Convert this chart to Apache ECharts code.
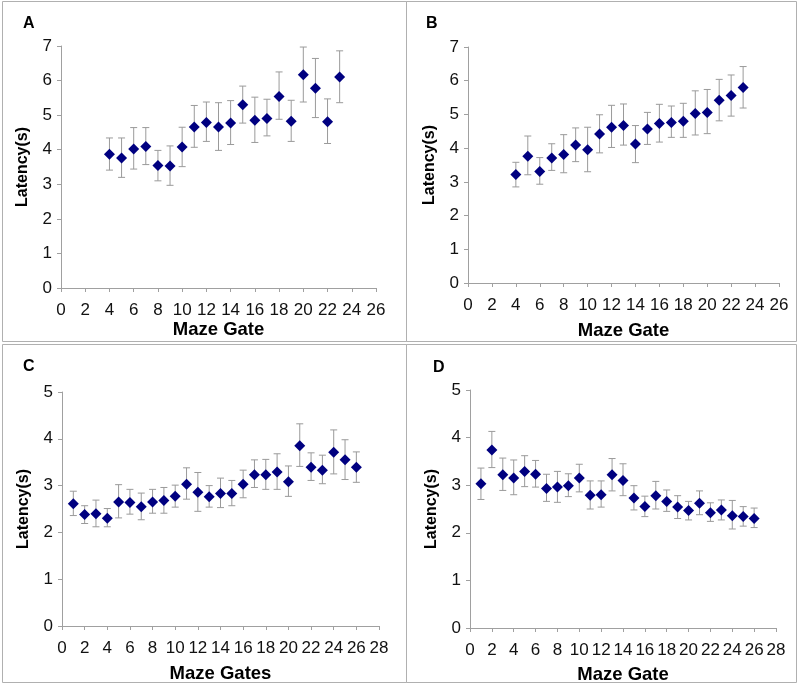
<!DOCTYPE html>
<html><head><meta charset="utf-8">
<script src="https://cdn.jsdelivr.net/npm/echarts@6/dist/echarts.min.js"></script>
<style>html,body{margin:0;padding:0;background:#fff}#c{width:800px;height:687px}</style>
</head><body><div id="c"></div>
<script>
// Panel A
var gatesA = [4,5,6,7,8,9,10,11,12,13,14,15,16,17,18,19,20,21,22,23];
var meanA  = [3.87,3.76,4.02,4.09,3.54,3.53,4.08,4.66,4.79,4.66,4.77,5.30,4.85,4.90,5.54,4.82,6.17,5.78,4.81,6.10];
var upA    = [4.34,4.34,4.64,4.64,3.98,4.11,4.65,5.28,5.38,5.36,5.42,5.84,5.52,5.46,6.25,5.43,6.97,6.64,5.47,6.86];
var loA    = [3.41,3.20,3.44,3.57,3.10,2.97,3.51,4.07,4.24,3.98,4.15,4.77,4.21,4.40,4.88,4.24,5.38,4.93,4.18,5.36];
// Panel B
var gatesB = [4,5,6,7,8,9,10,11,12,13,14,15,16,17,18,19,20,21,22,23];
var meanB  = [3.22,3.76,3.31,3.71,3.81,4.09,3.95,4.42,4.62,4.67,4.12,4.57,4.73,4.76,4.80,5.03,5.06,5.42,5.56,5.80];
var upB    = [3.58,4.36,3.72,4.13,4.40,4.60,4.62,4.99,5.27,5.31,4.67,5.06,5.30,5.25,5.33,5.70,5.74,6.04,6.17,6.42];
var loB    = [2.85,3.21,2.93,3.34,3.27,3.60,3.30,3.86,4.02,4.09,3.57,4.11,4.18,4.32,4.32,4.39,4.43,4.81,4.95,5.19];
// Panel C
var gatesC = [1,2,3,4,5,6,7,8,9,10,11,12,13,14,15,16,17,18,19,20,21,22,23,24,25,26];
var meanC  = [2.61,2.38,2.40,2.30,2.65,2.64,2.55,2.65,2.68,2.77,3.03,2.86,2.76,2.83,2.83,3.03,3.23,3.23,3.29,3.08,3.85,3.39,3.33,3.71,3.55,3.39];
var upC    = [2.88,2.57,2.69,2.51,3.02,2.92,2.84,2.92,2.96,3.01,3.38,3.28,3.00,3.16,3.11,3.33,3.55,3.56,3.68,3.42,4.32,3.70,3.65,4.19,3.98,3.72];
var loC    = [2.36,2.19,2.12,2.12,2.31,2.39,2.27,2.41,2.41,2.54,2.71,2.45,2.54,2.53,2.57,2.74,2.96,2.92,2.92,2.77,3.41,3.11,3.04,3.25,3.13,3.07];
// Panel D
var gatesD = [1,2,3,4,5,6,7,8,9,10,11,12,13,14,15,16,17,18,19,20,21,22,23,24,25,26];
var meanD  = [3.03,3.74,3.22,3.15,3.29,3.23,2.93,2.96,2.99,3.15,2.79,2.80,3.22,3.10,2.73,2.55,2.78,2.66,2.54,2.47,2.62,2.42,2.48,2.36,2.34,2.30];
var upD    = [3.36,4.13,3.57,3.53,3.62,3.52,3.23,3.29,3.24,3.44,3.09,3.09,3.56,3.45,2.99,2.77,3.08,2.90,2.78,2.66,2.88,2.63,2.69,2.68,2.55,2.52];
var loD    = [2.70,3.37,2.89,2.80,2.97,2.96,2.66,2.64,2.76,2.86,2.50,2.54,2.88,2.78,2.48,2.34,2.50,2.45,2.30,2.27,2.38,2.24,2.27,2.08,2.14,2.11];

var panelLetters = ['A','B','C','D'];
var xNames = ['Maze Gate','Maze Gate','Maze Gates','Maze Gate'];
var yName = 'Latency(s)';

var panels = [
  {g:gatesA,m:meanA,u:upA,l:loA,xmax:26,ymax:7,xGap:32, grid:{left:61,top:46,width:315,height:242}},
  {g:gatesB,m:meanB,u:upB,l:loB,xmax:26,ymax:7,xGap:38, grid:{left:468,top:47,width:311,height:236}},
  {g:gatesC,m:meanC,u:upC,l:loC,xmax:28,ymax:5,xGap:38, grid:{left:62,top:392,width:317,height:234}},
  {g:gatesD,m:meanD,u:upD,l:loD,xmax:28,ymax:5,xGap:37, grid:{left:470,top:390,width:306,height:238}}
];
var letterPos = [[23,16],[426,16],[23,359],[433,360]];

var FONT = 'Liberation Sans, Arial, sans-serif';
var axisCol = '#a0a0a0';
var grids=[], xAxes=[], yAxes=[], series=[];
panels.forEach(function(p,i){
  grids.push(p.grid);
  xAxes.push({type:'value',gridIndex:i,min:0,max:p.xmax,interval:2,
    axisLine:{show:true,onZero:false,lineStyle:{color:axisCol,width:1}},
    axisTick:{show:true,inside:false,length:4,lineStyle:{color:axisCol}},
    splitLine:{show:false},
    axisLabel:{color:'#111',fontSize:17,fontFamily:FONT,margin:14,hideOverlap:false},
    name:xNames[i],nameLocation:'middle',nameGap:p.xGap,
    nameTextStyle:{color:'#000',fontSize:18.5,fontWeight:'bold',fontFamily:FONT}});
  yAxes.push({type:'value',gridIndex:i,min:0,max:p.ymax,interval:1,
    axisLine:{show:true,lineStyle:{color:axisCol,width:1}},
    axisTick:{show:true,inside:false,length:4,lineStyle:{color:axisCol}},
    splitLine:{show:false},
    axisLabel:{color:'#111',fontSize:17,fontFamily:FONT,margin:9},
    name:yName,nameLocation:'middle',nameGap:30,
    nameTextStyle:{color:'#000',fontSize:16,fontWeight:'bold',fontFamily:FONT}});
  var errData = p.g.map(function(x,k){return [x,p.l[k],p.u[k]];});
  series.push({type:'custom',xAxisIndex:i,yAxisIndex:i,data:errData,z:2,
    renderItem:function(params,api){
      var x=api.value(0);
      var lo=api.coord([x,api.value(1)]);
      var hi=api.coord([x,api.value(2)]);
      var hw=3.5;
      var st={stroke:'#9a9a9a',lineWidth:1};
      return {type:'group',children:[
        {type:'line',shape:{x1:lo[0],y1:lo[1],x2:hi[0],y2:hi[1]},style:st},
        {type:'line',shape:{x1:lo[0]-hw,y1:lo[1],x2:lo[0]+hw,y2:lo[1]},style:st},
        {type:'line',shape:{x1:hi[0]-hw,y1:hi[1],x2:hi[0]+hw,y2:hi[1]},style:st}
      ]};
    }});
  series.push({type:'scatter',xAxisIndex:i,yAxisIndex:i,z:3,
    data:p.g.map(function(x,k){return [x,p.m[k]];}),
    symbol:'diamond',symbolSize:[11,11],itemStyle:{color:'#000080',opacity:1}});
});

var graphics = [
  {type:'rect',shape:{x:2.5,y:1.5,width:404,height:340},style:{fill:'none',stroke:'#b0b0b0',lineWidth:1},z:-1},
  {type:'rect',shape:{x:406.5,y:1.5,width:390,height:340},style:{fill:'none',stroke:'#b0b0b0',lineWidth:1},z:-1},
  {type:'rect',shape:{x:2.5,y:344.5,width:404,height:338},style:{fill:'none',stroke:'#b0b0b0',lineWidth:1},z:-1},
  {type:'rect',shape:{x:406.5,y:344.5,width:390,height:338},style:{fill:'none',stroke:'#b0b0b0',lineWidth:1},z:-1}
];
panelLetters.forEach(function(t,i){
  graphics.push({type:'text',left:letterPos[i][0],top:letterPos[i][1],
    style:{text:t,fill:'#000',font:'bold 16px '+FONT}});
});

var chart = echarts.init(document.getElementById('c'),null,{renderer:'canvas'});
chart.setOption({animation:false,backgroundColor:'#fff',grid:grids,xAxis:xAxes,yAxis:yAxes,series:series,graphic:graphics});
</script></body></html>
